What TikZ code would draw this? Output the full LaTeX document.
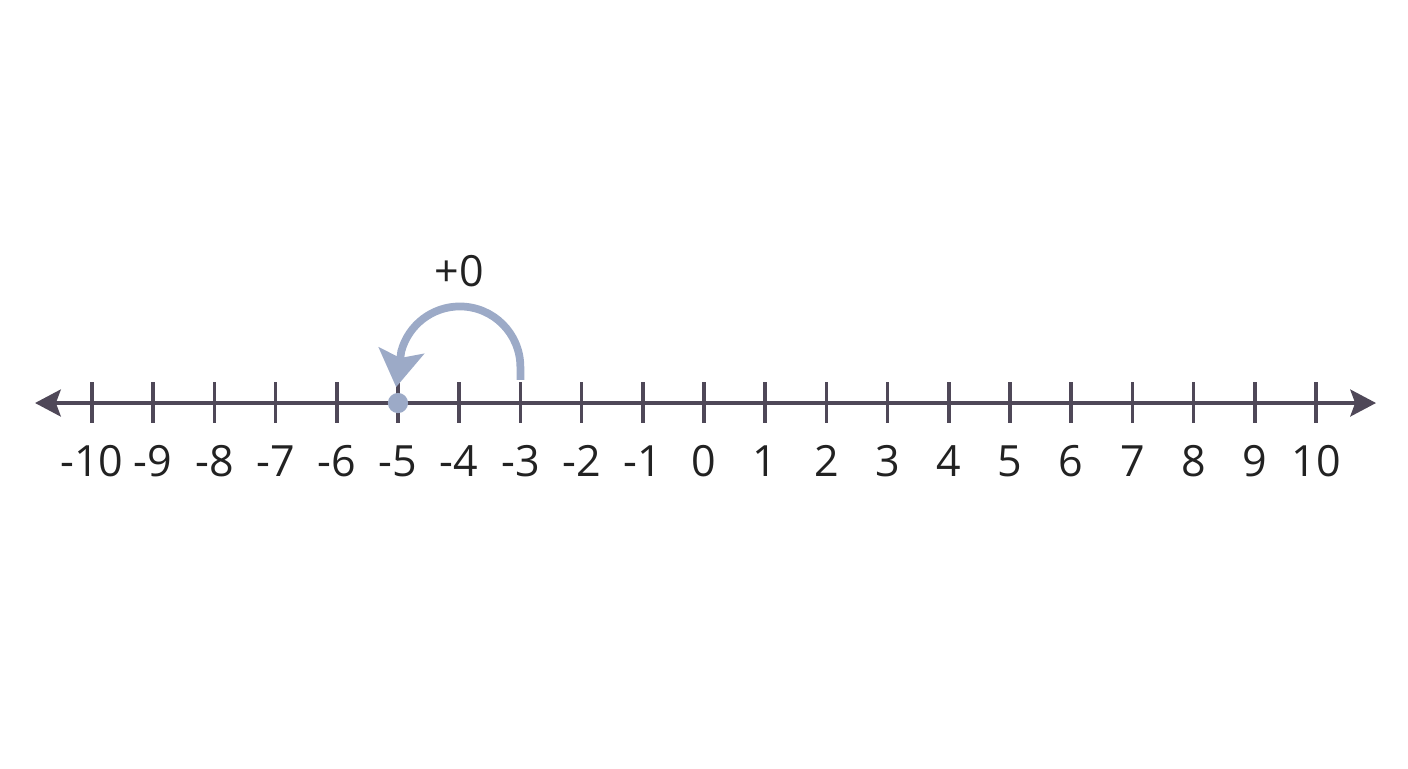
\documentclass[tikz,border=0pt]{standalone}
\usepackage{fontspec}
\setmainfont{Open Sans}
\usetikzlibrary{arrows.meta}
\definecolor{axisgrey}{HTML}{4F4858}
\definecolor{hopblue}{HTML}{9CAAC7}
\definecolor{numblack}{HTML}{222222}

\begin{document}
\begin{tikzpicture}[
    axisline/.style={axisgrey, line width=1.6pt},
    num/.style={font=\fontsize{20}{24}\selectfont, text=numblack, inner sep=0pt},
]
    \useasboundingbox (-11.503,-5.964) rectangle (11.503,6.585);

    % number line
    \coordinate (l) at (-10.93,0);
    \coordinate (r) at (10.98,0);
    \draw[axisline, {Stealth[length=0.42cm,width=0.44cm,inset=0.08cm]}-{Stealth[length=0.42cm,width=0.44cm,inset=0.08cm]}] (l) to (r);
    \foreach \i in {-10,...,10} {
        \draw[axisline] (\i,0.34) -- (\i,-0.33);
        \node[num] (n\i) at (\i,-0.95) {\i};
    }

    % jump
    \node[circle, fill=hopblue, inner sep=0pt, minimum size=0.33cm] (dot) at (-5,0) {};
    \coordinate (start) at (-3,0.376);
    \coordinate (tip) at (-5.03,0.26);
    \draw[hopblue, line width=3.6pt, -{Stealth[length=0.6cm,width=0.74cm,inset=0.12cm]}]
        (start) -- (-3,0.588) arc (0:165:0.99) -- (tip);
    \node[num] (hop) at (-4.0,2.157) {+0};
\end{tikzpicture}
\end{document}
